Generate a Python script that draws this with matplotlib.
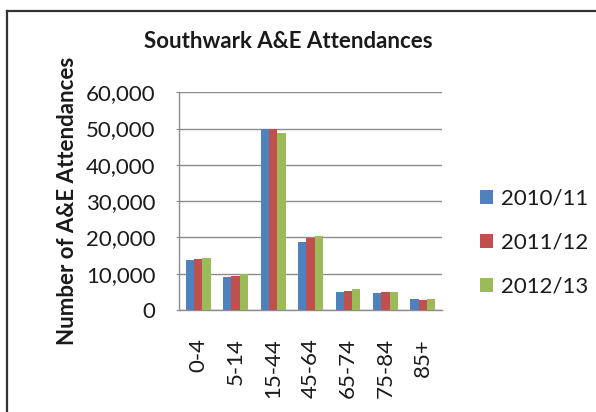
import matplotlib
matplotlib.use("Agg")
import matplotlib.pyplot as plt
from matplotlib.ticker import FuncFormatter
from matplotlib.lines import Line2D
import numpy as np

plt.rcParams['font.family'] = ['Lato', 'DejaVu Sans']

age_groups = ["0-4", "5-14", "15-44", "45-64", "65-74", "75-84", "85+"]
years = ["2010/11", "2011/12", "2012/13"]
att_2010 = [13800, 9200, 50000, 18800, 5050, 4600, 2950]
att_2011 = [14050, 9400, 50000, 19900, 5250, 5050, 2700]
att_2012 = [14400, 9800, 48900, 20400, 5700, 5050, 2950]
colors = ["#4F81BD", "#C0504D", "#9BBB59"]

FS = 16

fig = plt.figure(figsize=(5.96, 4.12), dpi=100)
ax = fig.add_axes([0.3009, 0.2476, 0.4402, 0.5284])

x = np.arange(len(age_groups))
w = 0.222
series = [att_2010, att_2011, att_2012]
for i, (vals, c, lab) in enumerate(zip(series, colors, years)):
    ax.bar(x + (i - 1) * w, vals, width=w, color=c, label=lab, zorder=3)

ax.set_xlim(-0.5, len(age_groups) - 0.5)
ax.set_ylim(0, 60000)
ax.set_yticks(np.arange(0, 60001, 10000))
ax.yaxis.set_major_formatter(FuncFormatter(lambda v, p: f"{int(v):,}"))
ax.grid(axis='y', color='#8c8c8c', linewidth=1.0, zorder=0)
ax.set_axisbelow(True)

for s in ['top', 'right']:
    ax.spines[s].set_visible(False)
for s in ['left', 'bottom']:
    ax.spines[s].set_color('#8c8c8c')
    ax.spines[s].set_linewidth(1.0)

ax.tick_params(axis='y', length=2.5, color='#8c8c8c', labelsize=FS,
               labelcolor='#1a1a1a', pad=14.5)
ax.set_xticks(x)
ax.set_xticklabels(age_groups, rotation=90, fontsize=FS, color='#1a1a1a')
ax.tick_params(axis='x', length=0, pad=20)

ax.set_ylabel("Number of A&E Attendances", fontsize=FS, fontweight='bold',
              color='#1a1a1a')
ax.yaxis.set_label_coords(-0.385, 0.5)

fig.text(0.483, 0.90, "Southwark A&E Attendances", fontsize=FS,
         fontweight='bold', color='#1a1a1a', ha='center', va='center')

ax.legend(loc='center left', bbox_to_anchor=(1.07, 0.31), frameon=False,
          fontsize=FS, handlelength=0.6, handleheight=0.6,
          handletextpad=0.35, labelspacing=1.08, labelcolor='#1a1a1a')

# outer frame of the chart area
fig.add_artist(Line2D([7 / 596, 7 / 596], [0, 1 - 11 / 412],
                      transform=fig.transFigure, color='#333333', linewidth=1.6))
fig.add_artist(Line2D([7 / 596, 1], [1 - 11 / 412, 1 - 11 / 412],
                      transform=fig.transFigure, color='#333333', linewidth=1.6))

fig.savefig("out.png", dpi=100)
